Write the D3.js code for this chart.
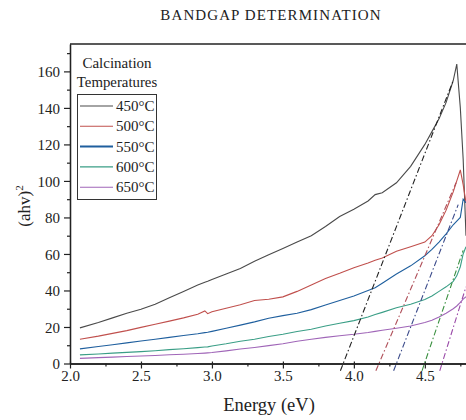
<!DOCTYPE html>
<html>
<head>
<meta charset="utf-8">
<script src="https://cdn.jsdelivr.net/npm/d3@7/dist/d3.min.js"></script>
<style>
body { margin:0; background:#fff; }
svg text { font-family: "Liberation Serif", "DejaVu Serif", serif; fill:#222; }
</style>
</head>
<body>
<script>
var w = 466, h = 420;

// data
var energy = [2.07,2.2,2.3,2.4,2.5,2.6,2.7,2.8,2.9,2.95,2.97,3.0,3.1,3.2,3.3,3.4,3.5,3.6,3.7,3.8,3.9,4.0,4.1,4.15,4.2,4.3,4.4,4.5,4.55,4.6,4.65,4.7,4.725,4.75,4.77,4.79];
var temps = ["450", "500", "550", "600", "650"];
var v450 = [19.5,22.5,25,27.5,29.7,32.5,36,39.5,43,44.5,45,46,49,52,56,59.5,63,66.5,70,75,80.5,84.5,89,92.5,93.5,99,108,120,127,134,143,155,164,140,112,70];
var v500 = [13.3,15,16.5,18,19.8,21.5,23.2,25,27,28.8,27.3,28.4,30.3,32.2,34.5,35.2,36.5,39.5,43,46.5,49.4,52.5,55,56.5,57.8,61.5,64,66.5,70,76,84,94,100,106,98,88];
var v550 = [8,9.3,10.3,11.3,12.3,13.3,14.3,15.3,16.3,16.9,17.1,17.6,19.3,21,22.8,24.8,26.2,27.5,29.5,32,34.5,37,40,41.5,44,49,53.5,59,62.5,66.5,71,76,78,80,90,88];
var v600 = [4.7,5.2,5.7,6.1,6.5,7,7.6,8.1,8.7,9,9.1,9.6,10.8,12.2,13.3,14.8,16,17.5,18.8,20.5,22,23.5,25.5,26.8,28,30.5,32.5,35,37,39.5,42,45,48,53,60,64];
var v650 = [2.8,3.2,3.5,3.8,4.1,4.4,4.8,5.1,5.5,5.7,5.8,6.0,6.9,7.9,8.8,9.8,10.8,12.2,13.3,14.3,15.2,16,17,17.6,18.2,19.3,20.5,22.5,23.7,25.5,27.5,30,31.5,33.5,35.3,36.6];
var series = [v450, v500, v550, v600, v650];
// tangent (extrapolation) lines: [E, value] start and end
var tanStart = [[3.905,-4],[4.155,-4],[4.28,-4],[4.48,-4],[4.605,-4]];
var tanEnd = [[4.70,155],[4.72,99],[4.735,87],[4.77,62],[4.79,42]];
var xTicks = [2.0,2.5,3.0,3.5,4.0,4.5];
var xMinor = [2.25,2.75,3.25,3.75,4.25,4.75];
var yTicks = [0,20,40,60,80,100,120,140,160];
var yMinor = [10,30,50,70,90,110,130,150,170];

var colors = ["#4a4a4a", "#c0504d", "#1f5f9e", "#3a9e86", "#a066b8"];
var tanColors = ["#222", "#b0505a", "#3a4a8a", "#3a9040", "#9a4aa8"];

var x = d3.scaleLinear().domain([2.0, 4.79]).range([70, 466]);
var y = d3.scaleLinear().domain([0, 175]).range([363.5, 44]);

var svg = d3.select("body").append("svg")
    .attr("width", w)
    .attr("height", h);

svg.append("defs").append("clipPath").attr("id", "clip")
  .append("rect").attr("x", 70).attr("y", 44).attr("width", 400).attr("height", 340);

// axes
var xAxis = svg.append("g")
    .attr("transform", "translate(0," + y(0) + ")")
    .call(d3.axisBottom(x).tickValues(xTicks).tickFormat(d3.format(".1f")).tickSize(5).tickSizeOuter(0));
xAxis.selectAll(".tick line").attr("y1", -2);
svg.append("g")
    .attr("transform", "translate(0," + y(0) + ")")
    .call(d3.axisBottom(x).tickValues(xMinor).tickFormat("").tickSize(3).tickSizeOuter(0));
var yAxis = svg.append("g")
    .attr("transform", "translate(70,0)")
    .call(d3.axisLeft(y).tickValues(yTicks).tickSize(6).tickSizeOuter(0));
svg.append("g")
    .attr("transform", "translate(70,0)")
    .call(d3.axisLeft(y).tickValues(yMinor).tickFormat("").tickSize(3).tickSizeOuter(0));

svg.selectAll(".domain").attr("stroke", "#222").attr("stroke-width", 1.3);
svg.selectAll(".tick line").attr("stroke", "#222").attr("stroke-width", 1.2);
svg.selectAll(".tick text").style("font-size", "15px").style("font-family", "Liberation Serif").attr("fill", "#222");
xAxis.selectAll(".tick text").attr("dy", "0.6em");
yAxis.selectAll(".tick text").attr("dx", "-1").attr("dy", "0.34em");

// top frame
svg.append("line")
    .attr("x1", 70).attr("x2", 466)
    .attr("y1", y(175)).attr("y2", y(175))
    .attr("stroke", "#222").attr("stroke-width", 1.3);

var line = d3.line()
    .x(function(d){ return x(d[0]); })
    .y(function(d){ return y(d[1]); });

var plot = svg.append("g").attr("clip-path", "url(#clip)");

series.forEach(function(s, i){
    var pts = energy.map(function(e, j){ return [e, s[j]]; });
    plot.append("path")
        .attr("d", line(pts))
        .attr("fill", "none")
        .attr("stroke", colors[i])
        .attr("stroke-width", 1.1);
});

tanStart.forEach(function(p, i){
    plot.append("path")
        .attr("d", line([p, tanEnd[i]]))
        .attr("fill", "none")
        .attr("stroke", tanColors[i])
        .attr("stroke-width", 1.1)
        .attr("stroke-dasharray", "6,2.5,1.5,2.5");
});

// titles
svg.append("text")
    .attr("x", 271).attr("y", 20)
    .attr("text-anchor", "middle")
    .style("font-size", "15px")
    .style("letter-spacing", "1.1px")
    .text("BANDGAP DETERMINATION");

svg.append("text")
    .attr("x", 269).attr("y", 411)
    .attr("text-anchor", "middle")
    .style("font-size", "18.5px")
    .text("Energy (eV)");

var yl = svg.append("text")
    .attr("transform", "translate(30,206) rotate(-90)")
    .attr("text-anchor", "middle")
    .style("font-size", "17px");
yl.append("tspan").text("(ahv)");
yl.append("tspan").attr("dy", "-7").style("font-size", "11px").text("2");

// legend
svg.append("text").attr("x", 117).attr("y", 68).attr("text-anchor", "middle")
    .style("font-size", "15px").text("Calcination");
svg.append("text").attr("x", 117).attr("y", 87).attr("text-anchor", "middle")
    .style("font-size", "14.8px").text("Temperatures");

svg.append("rect")
    .attr("x", 77.5).attr("y", 94.5).attr("width", 79).attr("height", 105)
    .attr("fill", "none").attr("stroke", "#333").attr("stroke-width", 1);

var leg = svg.selectAll(".leg").data(temps).enter().append("g")
    .attr("class", "leg")
    .attr("transform", function(d, i){ return "translate(0," + (106 + i * 20.3) + ")"; });
leg.append("line")
    .attr("x1", 80).attr("x2", 113)
    .attr("stroke", function(d, i){ return colors[i]; })
    .attr("stroke-width", function(d, i){ return i == 2 ? 2 : 1.1; });
leg.append("text")
    .attr("x", 116).attr("y", 5)
    .style("font-size", "15px")
    .text(function(d){ return d + "\u00B0C"; });
</script>
</body>
</html>
